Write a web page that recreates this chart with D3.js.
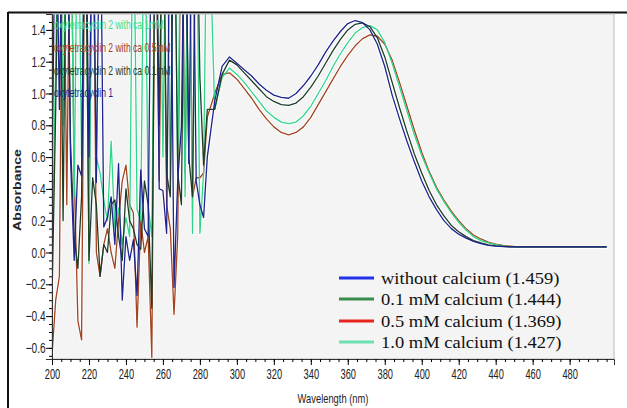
<!DOCTYPE html>
<html><head><meta charset="utf-8">
<script src="https://cdn.jsdelivr.net/npm/d3@7"></script>
<style>
html,body{margin:0;padding:0;background:#fff;}
svg{display:block;}
</style></head>
<body><svg id="chart" width="627" height="408"></svg>
<script>
// Wavelength grid: noisy region every 2 nm (200-284), smooth region every 4 nm (288-500)
const noisyWavelengths = d3.range(200, 286, 2);
const smoothWavelengths = d3.range(288, 501, 4);
const wavelengths = noisyWavelengths.concat(smoothWavelengths);

const baselineTail = [0.035,0.035,0.035,0.035,0.035,0.035,0.035,0.035,0.035,0.035,0.035,0.035,0.035];

// oxytetracyclin 1 (without calcium)
const blueNoisy = [0.4,2.5,0.9,2.5,2.5,0.6,-0.05,0.55,0.48,2.5,0.6,2.5,0.44,2.5,0.16,0.22,0.35,0.05,0.56,-0.3,0.1,-0.05,0.08,-0.27,0.52,0.15,0.1,2.5,2.5,0.4,0.39,0.12,2.5,-0.22,0.45,0.79,2.5,0.56,2.5,0.45,0.3,0.22,0.6];
const blueSmooth = [0.95,1.17,1.23,1.19,1.15,1.11,1.06,1.02,0.99,0.975,0.97,1.0,1.05,1.11,1.18,1.26,1.33,1.39,1.44,1.459,1.445,1.40,1.31,1.17,0.99,0.84,0.70,0.57,0.45,0.35,0.27,0.20,0.15,0.115,0.09,0.07,0.055,0.045,0.04,0.037,0.035];

// oxytetracyclin 2 with ca 0.1mM
const greenNoisy = [-0.3,0.9,2.5,0.2,2.5,0.7,0.1,-0.1,0.35,2.5,-0.05,0.47,0.3,-0.15,0.05,0.0,0.3,0.33,0.1,-0.05,0.4,0.2,0.15,0.05,0.02,0.45,0.3,-0.35,2.5,0.8,2.5,0.5,0.35,2.5,0.5,0.3,2.5,0.6,0.35,2.5,1.1,0.55,0.9];
const greenSmooth = [0.9,1.12,1.21,1.18,1.13,1.08,1.03,0.98,0.95,0.93,0.925,0.94,0.98,1.04,1.11,1.19,1.27,1.34,1.40,1.435,1.444,1.42,1.35,1.23,1.07,0.91,0.76,0.62,0.50,0.39,0.30,0.23,0.17,0.13,0.10,0.075,0.06,0.048,0.042,0.038,0.035];

// oxytetracyclin 2 with ca 0.5mM
const brownNoisy = [-0.65,-0.3,-0.15,2.5,0.3,2.5,0.5,-0.43,-0.55,2.5,0.1,2.5,0.0,-0.15,0.05,0.15,0.0,-0.1,0.2,0.45,0.55,0.3,0.25,-0.47,0.2,0.0,0.1,-0.66,2.5,0.45,2.5,0.3,0.15,-0.39,0.1,2.5,0.5,2.5,0.35,0.47,0.47,0.5,0.85];
const brownSmooth = [1.0,1.12,1.13,1.09,1.03,0.97,0.90,0.84,0.79,0.755,0.74,0.755,0.79,0.85,0.93,1.01,1.09,1.17,1.24,1.30,1.345,1.369,1.36,1.31,1.21,1.07,0.92,0.77,0.63,0.51,0.41,0.33,0.26,0.20,0.15,0.11,0.085,0.065,0.052,0.045,0.04];

// oxytetracyclin 2 with ca 1mM
const mintNoisy = [-0.1,1.2,2.5,0.8,2.5,2.5,0.35,2.5,0.6,2.5,-0.07,2.5,0.6,0.5,0.33,0.2,0.7,0.15,0.28,0.05,0.22,0.1,2.5,0.27,0.2,2.5,0.3,0.1,2.5,2.5,0.6,2.5,0.4,2.5,0.55,2.5,0.35,2.5,0.12,2.5,0.12,0.5,2.5];
const mintSmooth = [0.9,1.10,1.16,1.12,1.07,1.01,0.95,0.89,0.85,0.82,0.81,0.82,0.86,0.92,1.0,1.08,1.17,1.25,1.32,1.38,1.415,1.427,1.40,1.32,1.19,1.04,0.89,0.74,0.61,0.50,0.40,0.32,0.25,0.19,0.14,0.10,0.075,0.06,0.05,0.042,0.037];

const seriesNames = ["oxytetracyclin 2 with ca 1mM","oxytetracyclin 2 with ca 0.5mM","oxytetracyclin 2 with ca 0.1mM","oxytetracyclin 1"];
const legendLabels = ["without calcium (1.459)","0.1 mM calcium (1.444)","0.5 mM calcium (1.369)","1.0 mM calcium (1.427)"];
const xTickValues = d3.range(200, 481, 20);
const yTickValues = [-0.6,-0.4,-0.2,0.0,0.2,0.4,0.6,0.8,1.0,1.2,1.4];

const series = [
  {name: seriesNames[1], color: "#a3431f", values: brownNoisy.concat(brownSmooth, baselineTail)},
  {name: seriesNames[0], color: "#2fd68a", values: mintNoisy.concat(mintSmooth, baselineTail)},
  {name: seriesNames[2], color: "#1c3d26", values: greenNoisy.concat(greenSmooth, baselineTail)},
  {name: seriesNames[3], color: "#1d248e", values: blueNoisy.concat(blueSmooth, baselineTail)}
];

const svg = d3.select("#chart");
const L = 52, R = 614, T = 14, B = 359;
const x = d3.scaleLinear().domain([200, 504]).range([L, R]);
const y = d3.scaleLinear().domain([-0.67, 1.50]).range([B, T]);

// frame
svg.append("line").attr("x1", 8).attr("x2", 627).attr("y1", 12.5).attr("y2", 12.5).attr("stroke", "#111").attr("stroke-width", 2);
svg.append("line").attr("x1", 8).attr("x2", 8).attr("y1", 12).attr("y2", 408).attr("stroke", "#111").attr("stroke-width", 2);

// plot background
svg.append("rect").attr("x", L).attr("y", T).attr("width", R - L).attr("height", B - T).attr("fill", "#f4f4f4");

svg.append("clipPath").attr("id", "clip").append("rect").attr("x", L).attr("y", T).attr("width", R - L).attr("height", B - T);

const line = d3.line().x((d, i) => x(wavelengths[i])).y(d => y(d));
const g = svg.append("g").attr("clip-path", "url(#clip)");
series.forEach(s => {
  g.append("path").attr("d", line(s.values)).attr("fill", "none").attr("stroke", "#fff").attr("stroke-width", 3.2).attr("stroke-linejoin", "round");
});
series.forEach(s => {
  g.append("path").attr("d", line(s.values)).attr("fill", "none").attr("stroke", s.color).attr("stroke-width", 1.3).attr("stroke-linejoin", "round");
});

// plot border
svg.append("rect").attr("x", L).attr("y", T).attr("width", R - L).attr("height", B - T).attr("fill", "none").attr("stroke", "#bbb").attr("stroke-width", 1);

const tickFont = "'Liberation Sans',Arial,sans-serif";

// x axis
const xAxis = d3.axisBottom(x).tickValues(xTickValues).tickSize(6).tickFormat(d3.format("d"));
const xg = svg.append("g").attr("transform", `translate(0,${B})`).call(xAxis);
const xMinor = d3.axisBottom(x).tickValues(d3.range(200, 504, 5)).tickSize(3).tickFormat("");
svg.append("g").attr("transform", `translate(0,${B})`).call(xMinor).call(a => a.select(".domain").remove());
xg.select(".domain").attr("stroke", "#333");
xg.selectAll("text").attr("font-family", tickFont).attr("font-size", 14.5).attr("fill", "#222").attr("dy", "0.75em")
  .attr("transform", "scale(0.64,1)");

// y axis
const yAxis = d3.axisLeft(y).tickValues(yTickValues).tickSize(6).tickFormat(d3.format(".1f"));
const yg = svg.append("g").attr("transform", `translate(${L},0)`).call(yAxis);
const yMinor = d3.axisLeft(y).tickValues(d3.range(-0.65, 1.5, 0.05)).tickSize(3).tickFormat("");
svg.append("g").attr("transform", `translate(${L},0)`).call(yMinor).call(a => a.select(".domain").remove());
yg.select(".domain").attr("stroke", "#333");
yg.selectAll("text").attr("font-family", tickFont).attr("font-size", 14.5).attr("fill", "#222")
  .attr("transform", "scale(0.7,1)");

// axis titles
svg.append("text").attr("transform", "translate(333,403) scale(0.72,1)").attr("text-anchor", "middle")
  .attr("font-family", tickFont).attr("font-size", 13).attr("fill", "#222").text("Wavelength (nm)");
svg.append("text").attr("transform", "translate(21,190) rotate(-90)").attr("text-anchor", "middle")
  .attr("font-family", tickFont).attr("font-weight", "bold").attr("font-size", 11.5)
  .attr("textLength", 82).attr("lengthAdjust", "spacingAndGlyphs").attr("fill", "#222").text("Absorbance");

// series name annotations (top-left)
const annColors = ["#3adf8c", "#a3431f", "#1c3d26", "#1d248e"];
const annY = [29, 52, 75, 97];
seriesNames.forEach((n, i) => {
  svg.append("text").attr("transform", `translate(54,${annY[i]}) scale(0.66,1)`).attr("font-family", tickFont).attr("font-size", 13)
    .attr("fill", annColors[i]).text(n);
});

// legend (bottom right)
const legendColors = ["#2231ea", "#3a8c4e", "#e8231f", "#6fe0b0"];
const legY = [278, 299, 321, 342];
legendLabels.forEach((t, i) => {
  svg.append("line").attr("x1", 339).attr("x2", 374).attr("y1", legY[i]).attr("y2", legY[i])
    .attr("stroke", legendColors[i]).attr("stroke-width", 3);
  svg.append("text").attr("transform", `translate(381,${legY[i] + 5.5}) scale(1.09,1)`).attr("font-family", "'Liberation Serif','Times New Roman',serif")
    .attr("font-size", 17).attr("fill", "#111").text(t);
});
</script></body></html>
